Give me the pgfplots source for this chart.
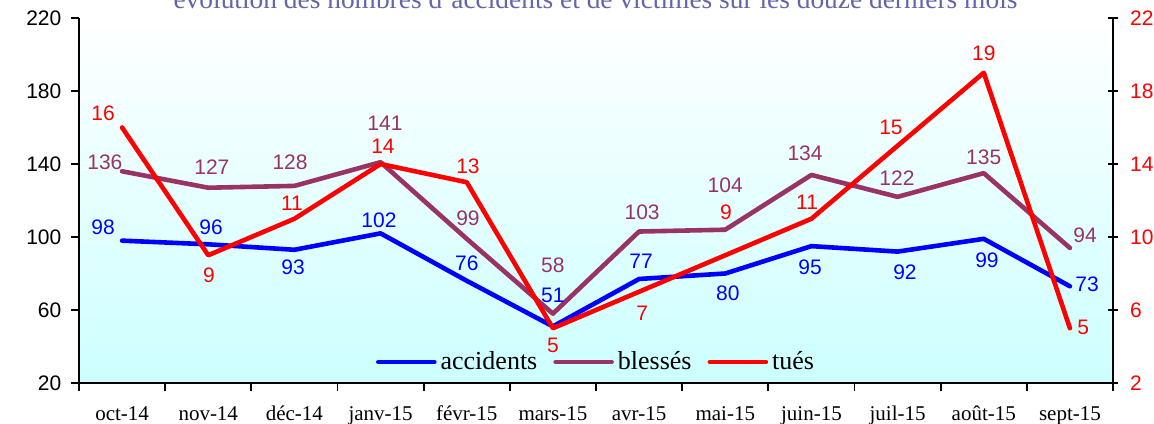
\documentclass[border=0pt]{standalone}
\usepackage{pgfplots}
\pgfplotsset{compat=1.18}
\usepackage{pgfplotstable}
\usepackage{fontspec}
\setmainfont{Liberation Serif}
\newfontfamily\arial{Liberation Sans}
\definecolor{plum}{RGB}{153,51,102}
\definecolor{bgcyan}{RGB}{204,255,255}
\definecolor{titlecol}{RGB}{100,100,170}
\newcommand\lbl{\arial\fontsize{10.5}{12}\selectfont}

\pgfplotstableread{
x y dx dy
0 98 -9.5 6.8
1 96 1.4 8.6
2 93 -0.7 -8.6
3 102 -0.8 6.7
4 76 0 8.9
5 51 0 15.7
6 77 1 9
7 80 1.3 -9.7
8 95 -0.7 -10.5
9 92 3.7 -10.2
10 99 1.6 -10.6
11 73 8.6 1.1
}\accid

\pgfplotstableread{
x y dx dy
0 136 -8.6 4.7
1 127 1.8 10.4
2 128 -2.2 12
3 141 2.2 19.6
4 99 0.6 10.4
5 58 0 24.3
6 103 1.5 9.7
7 104 0 22.3
8 134 -3.2 11
9 122 -0.3 9.4
10 135 0 8
11 94 7.6 6.5
}\bless

\pgfplotstableread{
x y dx dy
0 16 -9.5 7.2
1 9 0.4 -9.9
2 11 -1.2 7.9
3 14 1.2 9
4 13 0.6 8.1
5 5 0 -8.4
6 7 1.5 -10.6
7 9 0.4 21.6
8 11 -2.2 8.4
9 15 -3.3 9.4
10 19 0 9.9
11 5 6.6 0.6
}\tues

\pgfplotsset{
  lbls/.style={nodes near coords, point meta=explicit symbolic,
    visualization depends on={\thisrow{dx}\as\ldx},
    visualization depends on={\thisrow{dy}\as\ldy},
    every node near coord/.append style={anchor=center, inner sep=0pt, xshift=\ldx pt, yshift=\ldy pt, font=\lbl, text=#1}},
  serie/.style={#1, line width=2.3pt, line join=round, line cap=round},
}

\begin{document}
\begin{tikzpicture}
\begin{axis}[
  at={(0,0)}, anchor=south west,
  scale only axis, width=517pt, height=182.5pt,
  xmin=-0.5, xmax=11.5, ymin=20, ymax=220,
  axis x line*=bottom, axis y line*=left,
  axis line style={-, line width=1pt},
  axis background/.style={top color=white, bottom color=bgcyan},
  ytick={20,60,...,220},
  xtick={0,...,11},
  xticklabels={oct-14,nov-14,déc-14,janv-15,févr-15,mars-15,avr-15,mai-15,juin-15,juil-15,août-15,sept-15},
  minor xtick={-0.5,0.5,...,11.5},
  tick align=outside, major tick length=3.8pt, minor tick length=3.8pt,
  tick style={black, line width=0.9pt},
  major x tick style={draw=none},
  xticklabel style={font=\fontsize{10.5}{12}\selectfont, anchor=base, yshift=-15pt},
  yticklabel style={font=\lbl, xshift=-1.5pt},
  /pgf/number format/assume math mode=true,
  clip=false,
]
\addplot[serie=blue, lbls=blue]
  table[x=x, y=y, meta=y] {\accid};
\addplot[serie=plum, lbls=plum]
  table[x=x, y=y, meta=y] {\bless};
\end{axis}
\begin{axis}[
  at={(0,0)}, anchor=south west,
  scale only axis, width=517pt, height=182.5pt,
  xmin=-0.5, xmax=11.5, ymin=2, ymax=22,
  hide x axis, axis y line*=right,
  axis line style={-, line width=1pt},
  ytick={2,6,...,22},
  tick align=center, major tick length=5pt,
  tick style={black, line width=0.9pt},
  yticklabel style={font=\lbl, text=red, xshift=2.5pt},
  /pgf/number format/assume math mode=true,
  clip=false,
  legend style={at={(axis description cs:0.501,0.0575)}, anchor=center, draw=none, fill=none,
    font=\fontsize{13}{15}\selectfont, /tikz/every even column/.append style={column sep=6pt}},
  legend columns=3,
  legend image code/.code={\draw[#1, line width=2.3pt, line cap=round] (0pt,0pt) -- (28pt,0pt);},
]
\addlegendimage{blue}
\addlegendentry{accidents}
\addlegendimage{plum}
\addlegendentry{blessés}
\addlegendimage{red}
\addlegendentry{tués}
\addplot[serie=red, forget plot, lbls=red]
  table[x=x, y=y, meta=y] {\tues};
\end{axis}
\node[anchor=base, font=\fontsize{13.7}{16}\selectfont, text=titlecol] at (258.25pt,187pt)
  {évolution des nombres d'accidents et de victimes sur les douze derniers mois};
\pgfresetboundingbox
\useasboundingbox (-39.5pt,-20pt) rectangle (537.5pt,191.5pt);
\end{tikzpicture}
\end{document}
